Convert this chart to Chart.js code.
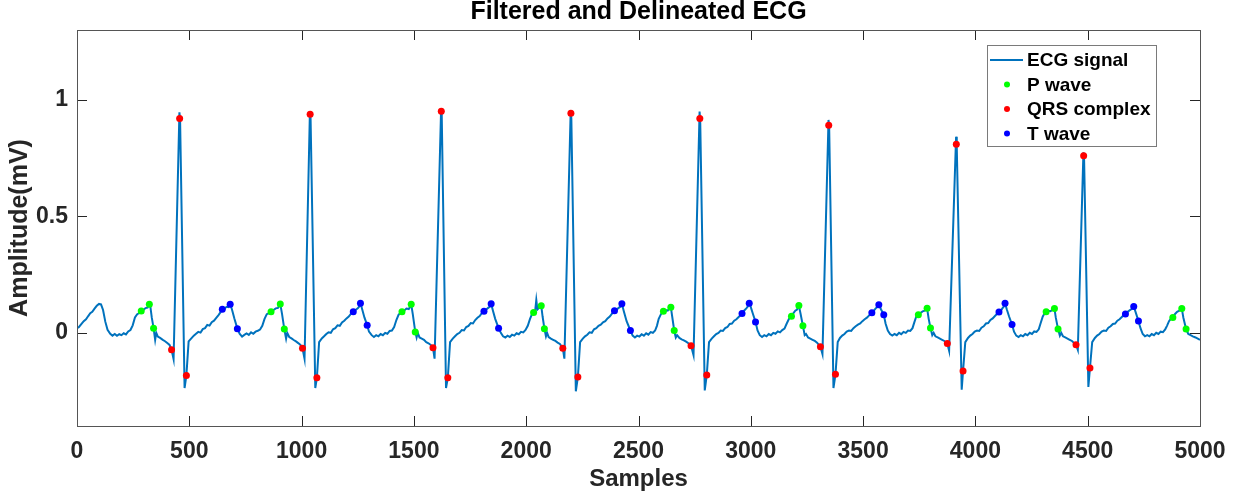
<!DOCTYPE html>
<html><head><meta charset="utf-8">
<script src="https://cdn.jsdelivr.net/npm/chart.js@4.4.0/dist/chart.umd.min.js"></script>
<style>html,body{margin:0;padding:0;background:#fff;}#wrap{width:1242px;height:497px;}</style>
</head><body><div id="wrap"><canvas id="c" width="1242" height="497"></canvas></div>
<script>
// ECG trace: [sample, amplitude mV]
const ecgSignal = [
[0,0.020],[8,0.024],[20,0.038],[30,0.050],[40,0.058],[50,0.072],[59,0.084],[68,0.090],[78,0.104],[88,0.116],[98,0.124],[107,0.122],[116,0.098],[126,0.048],[136,0.013],[148,-0.004],[158,-0.012],[168,-0.005],[178,-0.013],[188,-0.006],[198,-0.010],[208,-0.002],[218,-0.007],[228,0.006],[238,0.012],[248,0.032],[258,0.066],[268,0.080],[278,0.085],[286,0.094],[296,0.098],[305,0.106],[314,0.108],[322,0.123],[327,0.110],[333,0.065],[341,0.020],[348,-0.030],[353,0.000],[360,-0.016],[370,-0.022],[382,-0.030],[392,-0.036],[402,-0.044],[412,-0.052],[421,-0.073],[430,-0.113],[456,0.947],[459,0.915],[479,-0.237],[487,-0.183],[497,-0.037],[510,-0.023],[520,-0.012],[530,-0.004],[540,0.004],[550,0.001],[560,0.016],[570,0.020],[580,0.034],[590,0.031],[600,0.046],[610,0.052],[620,0.064],[630,0.076],[640,0.090],[647,0.101],[657,0.105],[667,0.112],[675,0.110],[682,0.123],[690,0.100],[701,0.060],[714,0.018],[724,-0.004],[735,-0.016],[745,-0.009],[755,-0.003],[765,-0.009],[775,0.002],[785,-0.004],[795,0.005],[805,0.009],[815,0.014],[825,0.030],[835,0.060],[845,0.080],[855,0.085],[864,0.091],[875,0.098],[885,0.105],[895,0.107],[905,0.124],[913,0.080],[923,0.016],[931,-0.025],[936,0.000],[945,-0.018],[955,-0.024],[965,-0.031],[975,-0.037],[985,-0.044],[995,-0.052],[1004,-0.066],[1013,-0.111],[1037,0.950],[1040,0.920],[1061,-0.237],[1068,-0.193],
[1078,-0.040],[1090,-0.024],[1100,-0.015],[1110,-0.005],[1120,0.002],[1130,0.000],[1140,0.015],[1150,0.020],[1160,0.032],[1170,0.030],[1180,0.045],[1190,0.052],[1200,0.062],[1210,0.070],[1220,0.082],[1230,0.090],[1240,0.098],[1250,0.105],[1256,0.112],[1262,0.127],[1270,0.100],[1280,0.065],[1292,0.033],[1300,0.005],[1312,-0.010],[1322,-0.018],[1332,-0.010],[1342,-0.015],[1352,-0.005],[1362,-0.010],[1372,0.000],[1382,-0.004],[1392,0.008],[1402,0.010],[1412,0.025],[1422,0.055],[1432,0.078],[1440,0.085],[1447,0.090],[1457,0.096],[1467,0.104],[1477,0.102],[1482,0.110],[1488,0.123],[1495,0.080],[1506,0.004],[1512,-0.020],[1517,0.000],[1525,-0.020],[1535,-0.025],[1545,-0.030],[1555,-0.040],[1565,-0.045],[1575,-0.052],[1585,-0.064],[1592,-0.111],[1621,0.955],[1624,0.930],[1643,-0.237],[1651,-0.193],
[1661,-0.040],[1673,-0.025],[1683,-0.015],[1693,-0.005],[1703,0.000],[1713,0.012],[1723,0.010],[1733,0.025],[1743,0.030],[1753,0.042],[1763,0.040],[1773,0.055],[1783,0.065],[1793,0.072],[1803,0.085],[1812,0.093],[1822,0.100],[1832,0.108],[1838,0.112],[1844,0.125],[1852,0.095],[1862,0.060],[1877,0.020],[1887,0.000],[1897,-0.015],[1907,-0.020],[1917,-0.012],[1927,-0.018],[1937,-0.008],[1947,-0.012],[1957,-0.002],[1967,-0.006],[1977,0.004],[1987,0.002],[1997,0.012],[2007,0.030],[2017,0.060],[2025,0.078],[2033,0.087],[2040,0.095],[2045,0.141],[2050,0.100],[2058,0.108],[2067,0.116],[2073,0.070],[2081,0.018],[2088,-0.015],[2093,0.000],[2100,-0.018],[2110,-0.025],[2120,-0.030],[2130,-0.035],[2140,-0.042],[2150,-0.048],[2163,-0.066],[2170,-0.111],[2198,0.950],[2201,0.920],[2221,-0.251],[2230,-0.190],
[2240,-0.040],[2252,-0.025],[2262,-0.015],[2272,-0.008],[2282,0.002],[2292,0.000],[2302,0.015],[2312,0.020],[2322,0.030],[2332,0.035],[2342,0.045],[2352,0.050],[2362,0.062],[2372,0.070],[2382,0.082],[2393,0.095],[2403,0.100],[2413,0.108],[2420,0.112],[2426,0.125],[2434,0.095],[2447,0.050],[2464,0.010],[2474,-0.012],[2484,-0.020],[2494,-0.012],[2504,-0.016],[2514,-0.006],[2524,-0.012],[2534,-0.002],[2544,-0.008],[2554,0.003],[2564,0.000],[2574,0.010],[2582,0.030],[2590,0.060],[2600,0.080],[2611,0.093],[2620,0.098],[2630,0.095],[2637,0.105],[2644,0.110],[2650,0.070],[2659,0.010],[2666,-0.020],[2672,-0.010],[2682,-0.022],[2692,-0.028],[2702,-0.032],[2712,-0.038],[2722,-0.045],[2734,-0.056],[2745,-0.096],[2772,0.950],[2775,0.900],[2795,-0.247],[2804,-0.181],
[2814,-0.040],[2826,-0.025],[2836,-0.015],[2846,-0.005],[2856,0.000],[2866,0.010],[2876,0.008],[2886,0.020],[2896,0.025],[2906,0.038],[2916,0.040],[2926,0.052],[2936,0.058],[2946,0.068],[2954,0.075],[2961,0.083],[2970,0.095],[2980,0.105],[2986,0.112],[2993,0.127],[3000,0.110],[3010,0.080],[3021,0.047],[3030,0.010],[3040,-0.010],[3050,-0.018],[3060,-0.010],[3070,-0.015],[3080,-0.005],[3090,-0.010],[3100,0.000],[3110,-0.004],[3120,0.006],[3130,0.002],[3140,0.012],[3150,0.018],[3160,0.040],[3170,0.060],[3181,0.071],[3190,0.085],[3198,0.095],[3206,0.100],[3214,0.117],[3222,0.080],[3232,0.030],[3240,-0.010],[3246,-0.005],[3255,-0.020],[3265,-0.025],[3275,-0.030],[3285,-0.035],[3295,-0.042],[3310,-0.060],[3319,-0.091],[3346,0.914],[3349,0.880],[3368,-0.237],[3377,-0.178],
[3387,-0.040],[3397,-0.022],[3407,-0.012],[3417,-0.005],[3427,0.005],[3437,0.010],[3447,0.008],[3457,0.020],[3467,0.028],[3477,0.035],[3487,0.040],[3497,0.050],[3507,0.058],[3517,0.065],[3527,0.075],[3539,0.086],[3548,0.095],[3556,0.105],[3562,0.110],[3570,0.121],[3580,0.100],[3592,0.078],[3600,0.040],[3610,0.010],[3620,-0.005],[3630,-0.012],[3640,-0.005],[3650,-0.010],[3660,0.000],[3670,-0.006],[3680,0.004],[3690,0.000],[3700,0.010],[3710,0.008],[3720,0.020],[3728,0.045],[3736,0.068],[3746,0.078],[3755,0.085],[3765,0.092],[3775,0.095],[3785,0.105],[3792,0.060],[3800,0.021],[3808,-0.010],[3814,0.000],[3822,-0.015],[3832,-0.020],[3842,-0.025],[3852,-0.030],[3862,-0.035],[3875,-0.046],[3883,-0.077],[3914,0.842],[3917,0.800],[3939,-0.244],[3945,-0.164],
[3955,-0.040],[3967,-0.022],[3977,-0.012],[3987,-0.005],[3997,0.005],[4007,0.010],[4017,0.008],[4027,0.022],[4037,0.028],[4047,0.040],[4057,0.042],[4067,0.055],[4077,0.062],[4087,0.072],[4097,0.082],[4105,0.089],[4113,0.095],[4120,0.105],[4126,0.112],[4132,0.127],[4140,0.100],[4150,0.070],[4163,0.036],[4172,0.005],[4182,-0.012],[4192,-0.018],[4202,-0.010],[4212,-0.015],[4222,-0.005],[4232,-0.010],[4242,0.000],[4252,-0.005],[4262,0.006],[4272,0.004],[4282,0.015],[4290,0.040],[4300,0.070],[4307,0.082],[4315,0.091],[4325,0.095],[4335,0.093],[4343,0.100],[4352,0.104],[4358,0.065],[4368,0.016],[4376,-0.012],[4382,0.000],[4390,-0.015],[4400,-0.020],[4410,-0.025],[4420,-0.030],[4430,-0.035],[4448,-0.051],[4456,-0.073],[4481,0.775],[4484,0.745],[4503,-0.232],[4510,-0.151],
[4520,-0.040],[4532,-0.022],[4542,-0.012],[4552,-0.005],[4562,0.005],[4572,0.010],[4582,0.008],[4592,0.022],[4602,0.028],[4612,0.038],[4622,0.040],[4632,0.052],[4642,0.058],[4652,0.068],[4660,0.075],[4668,0.081],[4678,0.090],[4688,0.098],[4696,0.102],[4705,0.113],[4713,0.090],[4726,0.051],[4735,0.020],[4745,-0.005],[4755,-0.015],[4765,-0.010],[4775,-0.015],[4785,-0.005],[4795,-0.010],[4805,0.000],[4815,-0.005],[4825,0.005],[4835,0.003],[4845,0.015],[4853,0.030],[4862,0.050],[4870,0.060],[4879,0.066],[4888,0.080],[4898,0.090],[4908,0.095],[4919,0.104],[4926,0.065],[4938,0.016],[4948,-0.005],[4958,-0.010],[4968,-0.015],[4980,-0.020],[4990,-0.025],[5000,-0.030]
];
const pWaveSamples = [286,322,341, 864,905,923, 1447,1488,1506, 2033,2067,2081, 2611,2644,2659, 3181,3214,3232, 3746,3785,3800, 4315,4352,4368, 4879,4919,4938];
const pWaveValues  = [0.094,0.123,0.020, 0.091,0.124,0.016, 0.090,0.123,0.004, 0.087,0.116,0.018, 0.093,0.110,0.010, 0.071,0.117,0.030, 0.078,0.105,0.021, 0.091,0.104,0.016, 0.066,0.104,0.016];
const qrsSamples = [421,457,487, 1004,1038,1068, 1585,1622,1651, 2163,2199,2230, 2734,2773,2804, 3310,3347,3377, 3875,3915,3945, 4448,4482,4510];
const qrsValues  = [-0.073,0.920,-0.183, -0.066,0.938,-0.193, -0.064,0.951,-0.193, -0.066,0.943,-0.190, -0.056,0.920,-0.181, -0.060,0.891,-0.178, -0.046,0.809,-0.164, -0.051,0.760,-0.151];
const tWaveSamples = [647,682,714, 1230,1262,1292, 1812,1844,1877, 2393,2426,2464, 2961,2993,3021, 3539,3570,3592, 4105,4132,4163, 4668,4705,4726];
const tWaveValues  = [0.101,0.123,0.018, 0.090,0.127,0.033, 0.093,0.125,0.020, 0.095,0.125,0.010, 0.083,0.127,0.047, 0.086,0.121,0.078, 0.089,0.127,0.036, 0.081,0.113,0.051];
const xTickValues = [0,500,1000,1500,2000,2500,3000,3500,4000,4500,5000];
const yTickValues = [0,0.5,1];
const seriesLabels = ['ECG signal','P wave','QRS complex','T wave'];

const toXY = (xs, ys) => xs.map((x, i) => ({x: x, y: ys[i]}));
const FONT = '"Liberation Sans", Arial, Helvetica, sans-serif';
const AXIS_COLOR = '#262626';

const boxAndTicks = {
  id: 'boxAndTicks',
  afterDatasetsDraw(chart) {
    const {ctx, chartArea: a, scales: {x, y}} = chart;
    ctx.save();
    ctx.strokeStyle = AXIS_COLOR;
    ctx.lineWidth = 1;
    ctx.beginPath();
    const L = 10;
    xTickValues.forEach(v => {
      const px = Math.round(x.getPixelForValue(v)) + 0.5;
      ctx.moveTo(px, a.bottom); ctx.lineTo(px, a.bottom - L);
      ctx.moveTo(px, a.top); ctx.lineTo(px, a.top + L);
    });
    yTickValues.forEach(v => {
      const py = Math.round(y.getPixelForValue(v)) + 0.5;
      ctx.moveTo(a.left, py); ctx.lineTo(a.left + L, py);
      ctx.moveTo(a.right, py); ctx.lineTo(a.right - L, py);
    });
    ctx.stroke();
    ctx.strokeStyle = '#555555';
    ctx.strokeRect(Math.round(a.left) + 0.5, Math.round(a.top) + 0.5, Math.round(a.right - a.left), Math.round(a.bottom - a.top));
    ctx.restore();
  }
};

const boxLegend = {
  id: 'boxLegend',
  afterDraw(chart) {
    const ctx = chart.ctx;
    const bx = 987, by = 45, bw = 169, bh = 101;
    ctx.save();
    ctx.fillStyle = '#ffffff';
    ctx.fillRect(bx, by, bw, bh);
    ctx.strokeStyle = '#7a7a7a';
    ctx.lineWidth = 1;
    ctx.strokeRect(bx + 0.5, by + 0.5, bw, bh);
    ctx.font = 'bold 19px ' + FONT;
    ctx.textBaseline = 'middle';
    ctx.fillStyle = '#000000';
    const rows = [60, 84.5, 109, 133.5];
    chart.data.datasets.forEach((ds, i) => {
      const yy = rows[i];
      if (i === 0) {
        ctx.strokeStyle = ds.borderColor;
        ctx.lineWidth = 2;
        ctx.beginPath(); ctx.moveTo(990, yy); ctx.lineTo(1023, yy); ctx.stroke();
      } else {
        ctx.fillStyle = ds.backgroundColor;
        ctx.beginPath(); ctx.arc(1007, yy, 3, 0, Math.PI * 2); ctx.fill();
      }
      ctx.fillStyle = '#000000';
      ctx.fillText(ds.label, 1027, yy + 1);
    });
    ctx.restore();
  }
};

new Chart(document.getElementById('c'), {
  type: 'line',
  data: {
    datasets: [
      {label: seriesLabels[0], data: ecgSignal.map(p => ({x: p[0], y: p[1]})), borderColor: '#0072BD', backgroundColor: '#0072BD', borderWidth: 2, pointRadius: 0, tension: 0, order: 2},
      {label: seriesLabels[1], data: toXY(pWaveSamples, pWaveValues), showLine: false, pointRadius: 3.5, pointBorderWidth: 0, backgroundColor: '#00FF00', borderColor: '#00FF00', order: 1},
      {label: seriesLabels[2], data: toXY(qrsSamples, qrsValues), showLine: false, pointRadius: 3.5, pointBorderWidth: 0, backgroundColor: '#FF0000', borderColor: '#FF0000', order: 1},
      {label: seriesLabels[3], data: toXY(tWaveSamples, tWaveValues), showLine: false, pointRadius: 3.5, pointBorderWidth: 0, backgroundColor: '#0000FF', borderColor: '#0000FF', order: 1}
    ]
  },
  options: {
    responsive: false,
    animation: false,
    devicePixelRatio: 1,
    layout: {padding: {left: 0, right: 42, top: 0, bottom: 0}},
    plugins: {
      legend: {display: false},
      tooltip: {enabled: false},
      title: {display: true, fullSize: false, text: 'Filtered and Delineated ECG', color: '#000000',
        font: {family: FONT, size: 25, weight: 'bold', lineHeight: 1}, padding: {top: 0, bottom: 5}}
    },
    scales: {
      x: {
        type: 'linear', min: 0, max: 5000,
        afterBuildTicks: s => { s.ticks = xTickValues.map(v => ({value: v})); },
        afterFit: s => { s.height = 71; s.paddingLeft = 0; s.paddingRight = 0; },
        grid: {display: false, drawTicks: false},
        border: {display: false},
        ticks: {color: AXIS_COLOR, font: {family: FONT, size: 23, weight: 'bold'}, padding: 12, maxRotation: 0, autoSkip: false,
          callback: v => String(v)},
        title: {display: true, text: 'Samples', color: AXIS_COLOR, font: {family: FONT, size: 24, weight: 'bold'}, padding: {top: 0, bottom: 3}}
      },
      y: {
        type: 'linear', min: -0.4, max: 1.3,
        afterBuildTicks: s => { s.ticks = yTickValues.map(v => ({value: v})); },
        afterFit: s => { s.width = 77; s.paddingTop = 0; s.paddingBottom = 0; },
        grid: {display: false, drawTicks: false},
        border: {display: false},
        ticks: {color: AXIS_COLOR, font: {family: FONT, size: 23, weight: 'bold'}, padding: 9, autoSkip: false,
          callback: v => String(v)},
        title: {display: true, text: 'Amplitude(mV)', color: AXIS_COLOR, font: {family: FONT, size: 25, weight: 'bold'}, padding: {top: 5, bottom: 0}}
      }
    }
  },
  plugins: [boxAndTicks, boxLegend]
});
</script>
</body></html>
